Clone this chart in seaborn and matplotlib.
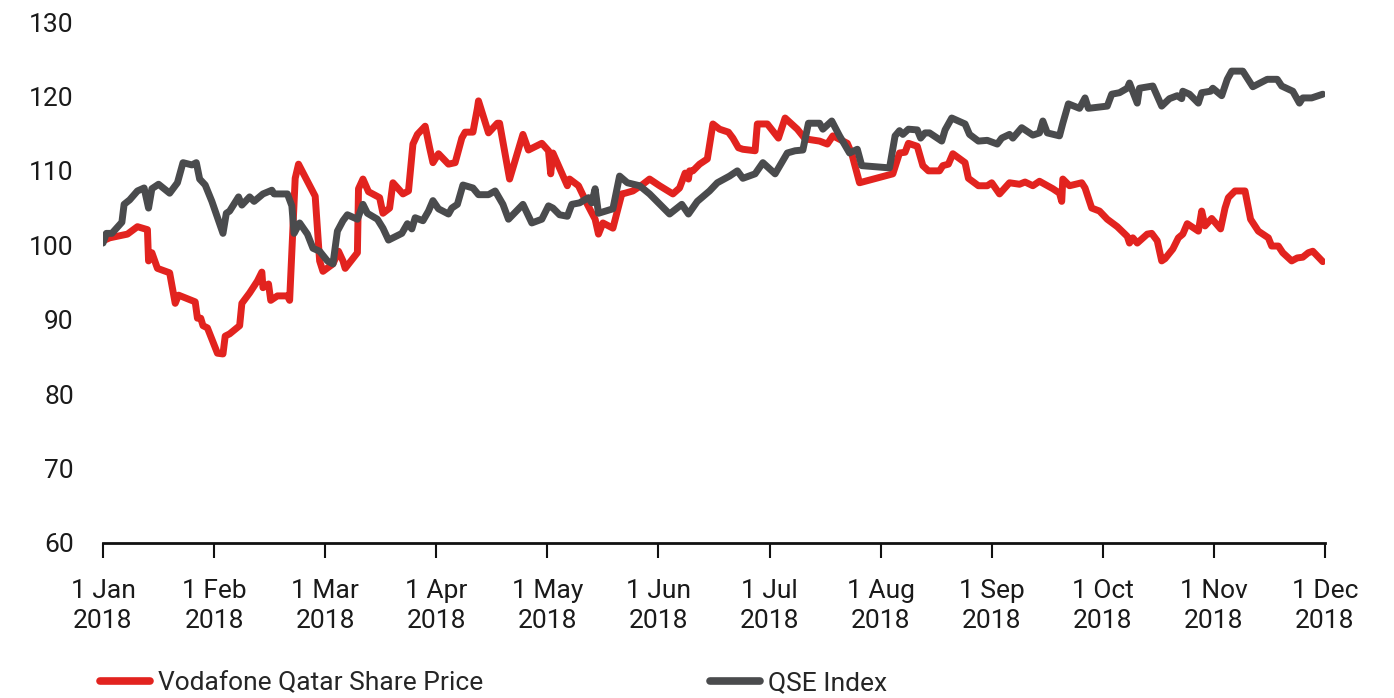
import matplotlib
matplotlib.use("Agg")
import matplotlib.pyplot as plt
import seaborn as sns
import pandas as pd
from matplotlib.lines import Line2D

# ---- data (x = months elapsed since 1 Jan 2018) ----
month_labels = ["1 Jan\n2018", "1 Feb\n2018", "1 Mar\n2018", "1 Apr\n2018", "1 May\n2018",
                "1 Jun\n2018", "1 Jul\n2018", "1 Aug\n2018", "1 Sep\n2018", "1 Oct\n2018",
                "1 Nov\n2018", "1 Dec\n2018"]
y_ticks = [60, 70, 80, 90, 100, 110, 120, 130]

vodafone_months = [
    0.00, 0.06, 0.22, 0.31, 0.40, 0.41, 0.44, 0.49, 0.60, 0.65, 0.68, 0.83, 0.85, 0.88, 0.90, 0.94,
    1.03, 1.08, 1.10, 1.14, 1.23, 1.25, 1.32, 1.39, 1.43, 1.44, 1.49, 1.51, 1.57, 1.66, 1.68, 1.73,
    1.76, 1.91, 1.95, 1.98, 2.07, 2.12, 2.16, 2.18, 2.29, 2.30, 2.34, 2.39, 2.49, 2.52, 2.58, 2.61,
    2.70, 2.75, 2.79, 2.83, 2.90, 2.94, 2.97, 3.02, 3.11, 3.17, 3.23, 3.26, 3.33, 3.37, 3.38, 3.47,
    3.55, 3.57, 3.66, 3.78, 3.83, 3.95, 4.01, 4.03, 4.05, 4.18, 4.20, 4.28, 4.36, 4.43, 4.46, 4.50,
    4.59, 4.67, 4.70, 4.77, 4.86, 4.92, 5.01, 5.13, 5.19, 5.24, 5.27, 5.28, 5.31, 5.37, 5.44, 5.49,
    5.55, 5.63, 5.67, 5.72, 5.76, 5.87, 5.89, 5.98, 6.08, 6.14, 6.25, 6.32, 6.45, 6.52, 6.57, 6.61,
    6.70, 6.74, 6.81, 7.11, 7.17, 7.22, 7.25, 7.33, 7.38, 7.43, 7.53, 7.56, 7.61, 7.65, 7.76, 7.79,
    7.88, 7.96, 8.00, 8.07, 8.16, 8.25, 8.30, 8.37, 8.43, 8.55, 8.61, 8.63, 8.64, 8.70, 8.81, 8.84,
    8.90, 8.97, 9.04, 9.13, 9.22, 9.24, 9.27, 9.31, 9.40, 9.44, 9.49, 9.53, 9.56, 9.63, 9.68, 9.72,
    9.76, 9.86, 9.89, 9.92, 9.98, 10.06, 10.10, 10.13, 10.19, 10.28, 10.33, 10.40, 10.49, 10.52,
    10.58, 10.62, 10.70, 10.75, 10.80, 10.85, 10.89, 10.98]
vodafone_values = [
    100.6, 101.0, 101.5, 102.5, 102.1, 97.9, 99.0, 96.9, 96.3, 92.2, 93.3, 92.4, 90.2, 90.2, 89.2, 88.9,
    85.5, 85.4, 87.8, 88.1, 89.2, 92.2, 93.6, 95.2, 96.4, 94.3, 94.8, 92.6, 93.2, 93.2, 92.6, 109.0,
    110.9, 106.6, 97.9, 96.5, 97.5, 99.2, 97.9, 96.9, 99.0, 107.6, 108.9, 107.2, 106.4, 104.3, 105.0, 108.4,
    106.9, 107.3, 113.6, 114.9, 116.0, 113.1, 111.1, 112.3, 110.9, 111.1, 114.4, 115.2, 115.2, 118.4, 119.4, 115.1,
    116.4, 116.4, 108.9, 114.9, 112.8, 113.7, 112.7, 109.6, 112.4, 108.0, 108.9, 108.0, 105.5, 103.5, 101.5, 103.0,
    102.3, 106.9, 107.0, 107.3, 108.2, 108.9, 108.0, 106.9, 107.7, 109.7, 108.9, 110.0, 110.0, 110.9, 111.6, 116.3,
    115.6, 115.2, 114.4, 113.1, 112.9, 112.7, 116.3, 116.3, 114.4, 117.1, 115.6, 114.3, 114.0, 113.6, 114.7, 114.4,
    113.7, 112.3, 108.4, 109.6, 112.4, 112.5, 113.7, 113.3, 110.7, 110.0, 110.0, 110.7, 110.9, 112.3, 111.1, 109.0,
    108.0, 108.0, 108.4, 106.9, 108.4, 108.2, 108.5, 108.0, 108.6, 107.6, 107.0, 105.9, 108.9, 108.0, 108.4, 107.7,
    105.0, 104.6, 103.5, 102.5, 101.2, 100.3, 101.0, 100.3, 101.5, 101.6, 100.6, 97.9, 98.2, 99.5, 101.0, 101.5,
    102.9, 101.9, 104.6, 102.6, 103.6, 102.2, 105.0, 106.4, 107.3, 107.3, 103.5, 101.9, 101.0, 99.9,
    99.9, 99.0, 97.9, 98.3, 98.4, 99.0, 99.2, 97.8]

qse_months = [
    0.00, 0.03, 0.08, 0.17, 0.19, 0.24, 0.31, 0.37, 0.41, 0.44, 0.50, 0.60, 0.67, 0.72, 0.80, 0.84,
    0.87, 0.92, 0.98, 1.08, 1.11, 1.14, 1.22, 1.25, 1.32, 1.36, 1.44, 1.52, 1.54, 1.66, 1.70, 1.72,
    1.77, 1.84, 1.89, 1.95, 2.02, 2.07, 2.11, 2.16, 2.20, 2.29, 2.34, 2.38, 2.47, 2.52, 2.57, 2.69,
    2.74, 2.78, 2.81, 2.88, 2.93, 2.97, 3.02, 3.11, 3.14, 3.19, 3.24, 3.33, 3.38, 3.47, 3.53, 3.60,
    3.65, 3.78, 3.86, 3.95, 4.01, 4.05, 4.11, 4.18, 4.22, 4.29, 4.37, 4.40, 4.43, 4.46, 4.59, 4.65,
    4.72, 4.83, 4.92, 5.10, 5.21, 5.27, 5.35, 5.46, 5.53, 5.64, 5.71, 5.76, 5.87, 5.94, 6.05, 6.16,
    6.23, 6.30, 6.35, 6.45, 6.48, 6.56, 6.63, 6.72, 6.79, 6.83, 7.08, 7.13, 7.17, 7.20, 7.25, 7.33,
    7.36, 7.40, 7.44, 7.55, 7.58, 7.64, 7.76, 7.80, 7.88, 7.96, 8.05, 8.09, 8.16, 8.19, 8.27, 8.37,
    8.43, 8.46, 8.50, 8.61, 8.64, 8.69, 8.79, 8.84, 8.87, 9.04, 9.08, 9.15, 9.22, 9.24, 9.31, 9.33,
    9.45, 9.53, 9.60, 9.67, 9.71, 9.72, 9.78, 9.86, 9.89, 9.97, 9.99, 10.07, 10.12, 10.16, 10.26,
    10.35, 10.48, 10.57, 10.61, 10.71, 10.77, 10.80, 10.88, 10.98]
qse_values = [
    100.3, 101.6, 101.6, 103.1, 105.5, 106.1, 107.3, 107.7, 105.0, 107.6, 108.2, 107.0, 108.4, 111.1, 110.8, 111.1,
    108.9, 108.1, 105.9, 101.6, 104.3, 104.6, 106.5, 105.4, 106.5, 105.9, 106.9, 107.4, 106.9, 106.9, 105.3, 101.6,
    103.0, 101.5, 99.6, 99.2, 97.9, 97.5, 101.9, 103.3, 104.1, 103.5, 105.5, 104.3, 103.5, 102.3, 100.7, 101.6,
    102.9, 102.2, 103.7, 103.3, 104.6, 106.0, 104.9, 104.2, 105.0, 105.5, 108.1, 107.7, 106.8, 106.8, 107.3, 105.5,
    103.5, 105.5, 103.0, 103.5, 105.3, 105.0, 104.1, 103.9, 105.5, 105.7, 106.4, 105.7, 107.6, 104.3, 104.9, 109.3,
    108.4, 108.0, 106.9, 104.2, 105.5, 104.2, 105.9, 107.3, 108.4, 109.3, 110.0, 109.0, 109.6, 111.1, 109.6, 112.4,
    112.7, 112.8, 116.4, 116.4, 115.6, 116.7, 114.7, 112.4, 112.9, 110.7, 110.4, 114.7, 115.4, 114.9, 115.6, 115.5,
    114.4, 115.1, 115.1, 114.0, 115.5, 117.1, 116.3, 114.9, 114.0, 114.1, 113.6, 114.4, 114.9, 114.4, 115.8, 114.8,
    115.1, 116.7, 115.1, 114.7, 116.4, 119.0, 118.4, 119.8, 118.4, 118.7, 120.3, 120.5, 121.1, 121.8, 119.1, 121.1,
    121.4, 118.7, 119.7, 120.1, 119.7, 120.7, 120.3, 119.1, 120.5, 120.7, 121.1, 120.1, 122.3, 123.4, 123.4,
    121.3, 122.3, 122.3, 121.4, 120.7, 119.1, 119.8, 119.8, 120.3]

series_names = ["Vodafone Qatar Share Price", "QSE Index"]
colors = ["#E2231F", "#4A4B4D"]

df = pd.concat([
    pd.DataFrame({"month": vodafone_months, "value": vodafone_values, "series": series_names[0]}),
    pd.DataFrame({"month": qse_months, "value": qse_values, "series": series_names[1]}),
], ignore_index=True)

# ---- style ----
sns.set_theme(style="white")
plt.rcParams["font.family"] = ["Roboto", "DejaVu Sans"]

fig = plt.figure(figsize=(13.94, 6.98), dpi=100)
ax = fig.add_axes([103 / 1394, 1 - 543 / 698, 1222 / 1394, 521 / 698])

sns.lineplot(data=df, x="month", y="value", hue="series", hue_order=series_names,
             palette=dict(zip(series_names, colors)), estimator=None, sort=False,
             linewidth=5, ax=ax, legend=False)

ax.set_xlim(0, 11)
ax.set_ylim(60, 130)
ax.set_xticks(range(len(month_labels)))
ax.set_xticklabels(month_labels, fontsize=19, color="#1a1a1a", linespacing=1.3)
ax.set_yticks(y_ticks)
ax.set_yticklabels([str(v) for v in y_ticks], fontsize=19, color="#1a1a1a")
ax.set_xlabel("")
ax.set_ylabel("")

for side in ["top", "right", "left"]:
    ax.spines[side].set_visible(False)
ax.spines["bottom"].set_color("#111111")
ax.spines["bottom"].set_linewidth(2.0)
ax.tick_params(axis="x", direction="out", length=11, width=1.5, color="#111111", pad=15, bottom=True)
ax.tick_params(axis="y", length=0, pad=21)

handles = [Line2D([0], [0], color=c, lw=5.5, solid_capstyle="round") for c in colors]
fig.legend(handles, series_names, loc="center left", bbox_to_anchor=(100 / 1394, 1 - 683 / 698),
           ncol=2, frameon=False, fontsize=19, handlelength=1.9, handletextpad=0.3,
           columnspacing=8.6, borderpad=0, borderaxespad=0)

fig.savefig("out.png", dpi=100)
